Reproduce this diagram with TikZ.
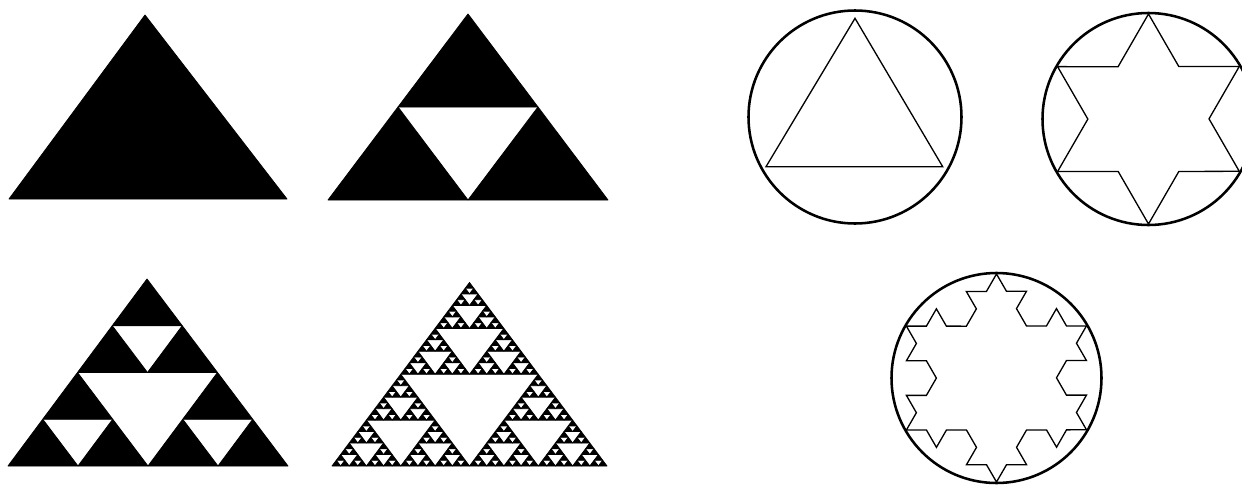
\documentclass[tikz,border=0pt]{standalone}
\usepackage{tikz}
\usetikzlibrary{decorations.fractals}

% Sierpinski 三角形：深度，三个顶点
\newcommand{\sierpinski}[7]{%
  \ifnum#1=0\relax
    \path[piece] (#2,#3) -- (#4,#5) -- (#6,#7) -- cycle;
  \else
    \begingroup
      \pgfmathtruncatemacro\sdepth{#1-1}%
      \pgfmathsetmacro\abx{(#2+#4)/2}\pgfmathsetmacro\aby{(#3+#5)/2}%
      \pgfmathsetmacro\bcx{(#4+#6)/2}\pgfmathsetmacro\bcy{(#5+#7)/2}%
      \pgfmathsetmacro\cax{(#6+#2)/2}\pgfmathsetmacro\cay{(#7+#3)/2}%
      \edef\sierpnext{%
        \noexpand\sierpinski{\sdepth}{#2}{#3}{\abx}{\aby}{\cax}{\cay}%
        \noexpand\sierpinski{\sdepth}{\abx}{\aby}{#4}{#5}{\bcx}{\bcy}%
        \noexpand\sierpinski{\sdepth}{\cax}{\cay}{\bcx}{\bcy}{#6}{#7}%
      }%
      \sierpnext
    \endgroup
  \fi}

\begin{document}
\begin{tikzpicture}[
			x=0.02cm, y=-0.02cm,
			piece/.style={
				fill=black,
				draw=black,
				line width=0.45pt,
				line join=round
			},
			rim/.style={
				draw=black,
				line width=1.45pt
			},
			outline/.style={
				draw=black,
				line width=0.75pt,
				line join=miter
			},
			koch/.style={
				outline,
				decoration={Koch snowflake}
			}
			]
			\useasboundingbox (0,0) rectangle (1242,487);
			\clip (0,0) rectangle (1242,487);
			
			% 左侧：Sierpinski 三角形
			\sierpinski{0}{145}{15}{9}{199}{287}{199}
			\sierpinski{1}{468}{14}{328}{200}{608}{200}
			\sierpinski{2}{147}{279}{8}{466}{288}{466}
			\sierpinski{5}{469.5}{282.5}{332}{466}{607}{466}
			
			% 右侧：圆与 Koch 曲线
			\draw[rim] (855,117) circle[radius=106.5];
			\coordinate (tritop) at (855,18.3);
			\coordinate (triright) at (942.7,166.7);
			\coordinate (trileft) at (766,166.7);
			\draw[outline] (tritop) -- (triright) -- (trileft) -- cycle;
			
			\draw[rim] (1148.5,119) circle[radius=106];
			\coordinate (startop) at (1148.5,14);
			\coordinate (starright) at (1239.4,171.5);
			\coordinate (starleft) at (1057.6,171.5);
			\draw[koch] decorate{(startop) -- (starright) -- (starleft) -- cycle};
			
			\draw[rim] (996.5,378) circle[radius=105];
			\coordinate (flaketop) at (996.5,274);
			\coordinate (flakeright) at (1086.6,430);
			\coordinate (flakeleft) at (906.4,430);
			\draw[koch] decorate{decorate{(flaketop) -- (flakeright) -- (flakeleft) -- cycle}};
		\end{tikzpicture}
\end{document}
